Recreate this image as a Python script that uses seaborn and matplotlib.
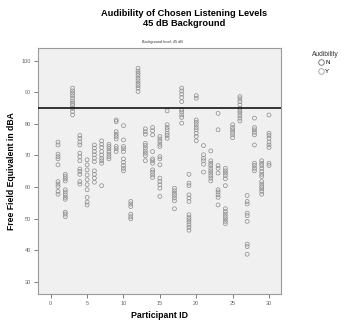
import numpy as np
import pandas as pd
import matplotlib
matplotlib.use("Agg")
import matplotlib.pyplot as plt
from matplotlib.lines import Line2D
import seaborn as sns

# ---- data ----
p01 = [74.2, 73.3, 70.4, 69.6, 68.9, 67.0, 61.7, 60.9, 60.1, 58.6, 57.7]
p02 = [64.0, 63.3, 62.6, 61.9, 59.1, 58.4, 57.5, 56.7, 56.1, 52.0, 51.4, 50.6]
p03 = [91.3, 90.4, 89.7, 88.9, 88.1, 87.2, 86.5, 85.8, 84.9, 83.9, 82.8]
p04 = [76.3, 75.4, 74.2, 73.3, 70.7, 69.6, 68.3, 65.7, 64.9, 64.0, 61.7, 60.9]
p05 = [68.6, 67.0, 65.4, 63.8, 62.3, 60.7, 59.1, 56.7, 55.2, 54.3]
p06 = [73.3, 72.3, 71.2, 70.2, 69.1, 68.0, 65.1, 64.0, 62.8, 61.5]
p07 = [74.6, 73.5, 72.5, 71.2, 70.1, 69.1, 68.3, 67.5, 60.4]
p08 = [73.5, 72.8, 72.1, 71.2, 70.4, 69.6, 68.9]
p09 = [81.2, 80.7, 77.5, 76.7, 76.0, 75.2, 72.8, 72.1, 71.2]
p10 = [79.4, 74.9, 72.8, 72.1, 71.2, 68.9, 67.8, 66.8, 65.9, 65.1]
p11 = [55.4, 54.6, 53.8, 51.4, 50.6, 49.9]
p12 = [97.6, 96.7, 96.0, 95.3, 94.4, 93.6, 92.8, 92.1, 91.3, 90.2]
p13 = [78.4, 77.5, 76.7, 73.8, 73.1, 72.3, 71.4, 70.7, 69.9, 68.3]
p14 = [78.8, 77.8, 76.5, 71.2, 68.9, 68.3, 67.5, 65.4, 64.7, 63.8, 63.0]
p15 = [76.0, 75.2, 74.4, 73.5, 72.8, 69.6, 68.9, 67.0, 62.8, 61.7, 60.7, 59.6, 57.0]
p16 = [84.1, 79.7, 78.8, 78.1, 77.0, 76.3, 75.4]
p17 = [59.6, 58.8, 58.0, 57.3, 56.5, 55.6, 53.1]
p18 = [91.3, 90.4, 89.4, 88.3, 87.0, 84.4, 83.7, 82.8, 82.0, 80.2]
p19 = [64.0, 61.2, 60.4, 57.5, 56.5, 55.4, 51.2, 50.3, 49.6, 48.9, 48.0, 47.2, 46.3]
p20 = [88.9, 88.1, 81.2, 80.5, 79.7, 78.8, 78.1, 77.0, 76.0, 74.6]
p21 = [73.1, 70.2, 69.1, 68.3, 67.2, 64.7]
p22 = [71.4, 68.3, 67.5, 66.8, 65.9, 65.1, 64.4, 63.6, 62.8, 61.9]
p23 = [83.3, 78.1, 66.8, 65.9, 64.4, 59.1, 58.4, 57.5, 56.7, 54.3]
p24 = [65.9, 65.1, 64.4, 63.6, 62.6, 60.4, 53.1, 52.2, 51.4, 50.6, 49.9, 49.1, 48.4]
p25 = [79.7, 78.8, 78.1, 77.3, 76.5, 75.6]
p26 = [88.6, 87.9, 87.0, 86.0, 84.9, 84.1, 83.4, 82.6, 81.8, 80.9]
p27 = [57.3, 55.4, 54.6, 51.7, 50.9, 49.1, 41.9, 41.1, 38.7]
p28 = [81.8, 78.8, 78.1, 77.3, 76.5, 73.3, 67.5, 66.8, 65.9, 65.1]
p29 = [68.3, 67.5, 66.8, 65.9, 64.9, 64.0, 63.3, 61.7, 60.9, 60.1, 59.4, 58.6, 57.7]
p30 = [82.8, 77.0, 76.3, 75.4, 74.2, 73.3, 72.5, 67.5, 66.8]

participants = [p01, p02, p03, p04, p05, p06, p07, p08, p09, p10,
                p11, p12, p13, p14, p15, p16, p17, p18, p19, p20,
                p21, p22, p23, p24, p25, p26, p27, p28, p29, p30]
participant_ids = list(range(1, 31))
reference_level = 85
audibility_levels = ["N", "Y"]
x_ticks = [0, 5, 10, 15, 20, 25, 30]
y_ticks = [30, 40, 50, 60, 70, 80, 90, 100]

rows = []
for pid, vals in zip(participant_ids, participants):
    for v in vals:
        rows.append({"Participant ID": pid, "Level": v})
df = pd.DataFrame(rows)

# ---- styling ----
plt.rcParams["font.family"] = ["Liberation Sans", "DejaVu Sans"]
W, H = 341, 322
fig = plt.figure(figsize=(W / 100, H / 100), dpi=100)
fig.patch.set_facecolor("white")
ax = fig.add_axes([38 / W, 1 - 294 / H, (281 - 38) / W, (294 - 48) / H])
ax.set_facecolor("#f0f0f0")

pt_col = "#8a8a8a"
sns.scatterplot(data=df, x="Participant ID", y="Level", ax=ax,
                marker="o", s=8, facecolor="none", edgecolor=pt_col,
                linewidth=0.5, legend=False)
ax.axhline(reference_level, color="black", lw=1.1, zorder=3)

ax.set_xlim(-1.75, 31.65)
ax.set_ylim(26.1, 104.0)
ax.set_xticks(x_ticks)
ax.set_yticks(y_ticks)
ax.tick_params(axis="both", labelsize=4, colors="#666666", length=3,
               width=0.6, direction="out", pad=2)
for s in ax.spines.values():
    s.set_color("#9a9a9a")
    s.set_linewidth(0.8)

ax.set_xlabel("Participant ID", fontsize=6.3, fontweight="bold", labelpad=3.5)
ax.set_ylabel("Free Field Equivalent in dBA", fontsize=6.2, fontweight="bold",
              labelpad=4)

fig.text(184 / W, 1 - 13 / H, "Audibility of Chosen Listening Levels",
         ha="center", va="center", fontsize=6.7, fontweight="bold")
fig.text(184 / W, 1 - 24 / H, "45 dB Background",
         ha="center", va="center", fontsize=6.7, fontweight="bold")
fig.text(162 / W, 1 - 42 / H, "Background level: 45 dB",
         ha="center", va="center", fontsize=2.7, color="#333333")

handles = [Line2D([], [], marker="o", ls="none", markersize=4,
                  markerfacecolor="none", markeredgecolor=c, markeredgewidth=0.6)
           for c in ["#666666", "#9a9a9a"]]
fig.text(325 / W, 1 - 55 / H, "Audibility", ha="center", va="center",
         fontsize=4.8, color="#333333")
leg = fig.legend(handles, audibility_levels, loc="upper left",
                 bbox_to_anchor=(318 / W, 1 - 60 / H), frameon=False,
                 fontsize=4.3, handlelength=0.9, handletextpad=0.3,
                 labelspacing=0.55, borderaxespad=0, borderpad=0)

fig.savefig("out.png", dpi=100)
